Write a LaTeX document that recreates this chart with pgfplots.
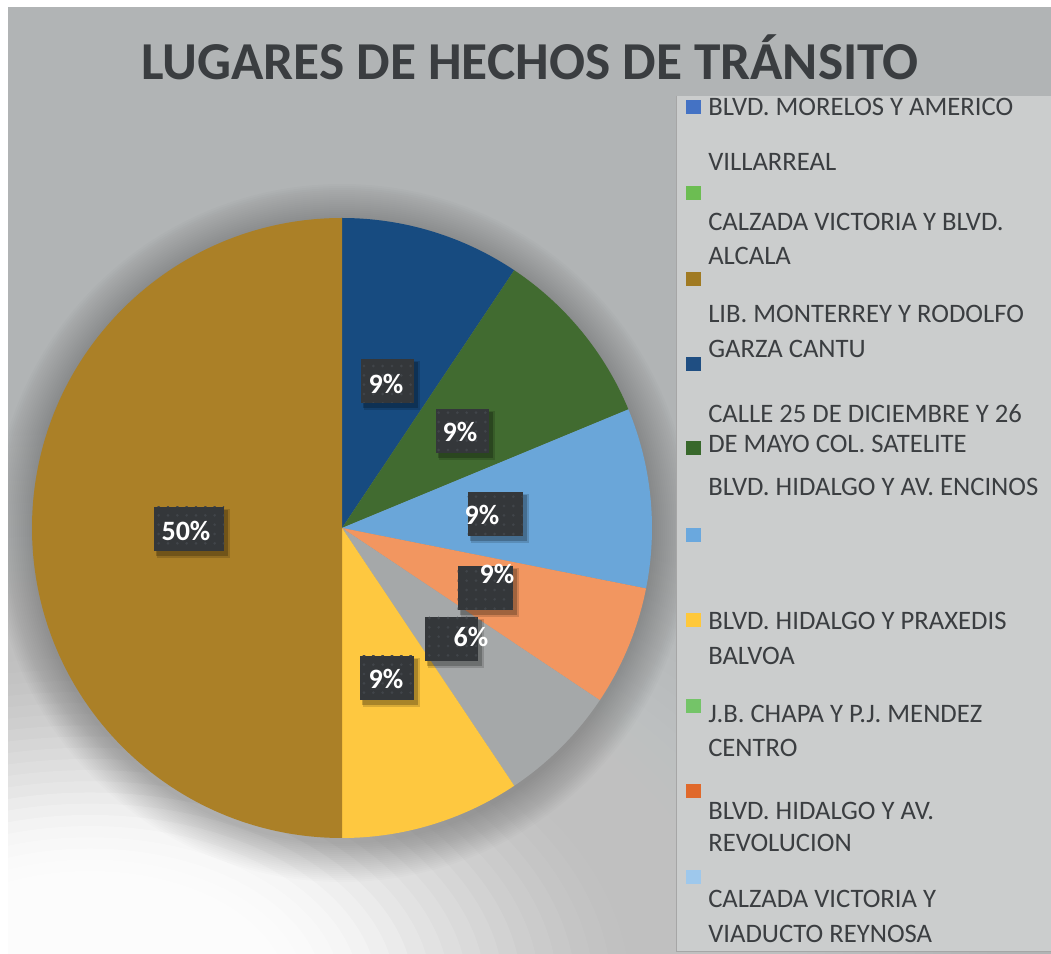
\documentclass[border=0pt]{standalone}
\usepackage{pgfplots}
\pgfplotsset{compat=1.18}
\usepackage{fontspec}
\setmainfont{Carlito}
\usetikzlibrary{patterns.meta}
\definecolor{bgGray}{HTML}{B1B4B5}
\definecolor{legBg}{HTML}{CBCDCD}
\definecolor{titleC}{HTML}{3A3D40}
\definecolor{txtC}{HTML}{3B3E41}
\definecolor{labBox}{HTML}{34373A}
\definecolor{labDot}{HTML}{41454A}
% pie colours
\definecolor{cDB}{HTML}{174B80}
\definecolor{cDG}{HTML}{416B30}
\definecolor{cLB}{HTML}{6AA6D9}
\definecolor{cOR}{HTML}{F29660}
\definecolor{cGR}{HTML}{A5A8A9}
\definecolor{cYE}{HTML}{FEC840}
\definecolor{cGO}{HTML}{AB8027}
% legend colours
\definecolor{l1}{HTML}{4472C4}
\definecolor{l2}{HTML}{6CBD52}
\definecolor{l3}{HTML}{A07A22}
\definecolor{l4}{HTML}{1F4E82}
\definecolor{l5}{HTML}{38682B}
\definecolor{l6}{HTML}{6AA8DE}
\definecolor{l7}{HTML}{FFC83A}
\definecolor{l8}{HTML}{74C468}
\definecolor{l9}{HTML}{E0692B}
\definecolor{l10}{HTML}{9EC8EC}
\newcommand\dlabel[6]{%
  \fill[black,opacity=0.22] (#1-#3/2+2,954-#2-22-5) rectangle (#1+#3/2+4,954-#2+22-3);
  \fill[black,opacity=0.15] (#1-#3/2+3,954-#2-22-7) rectangle (#1+#3/2+6,954-#2+22-2);
  \fill[labBox] (#1-#3/2,954-#2-22) rectangle (#1+#3/2,954-#2+22);
  \fill[pattern={Dots[radius=1.1pt,distance=7pt]}, pattern color=labDot] (#1-#3/2,954-#2-22) rectangle (#1+#3/2,954-#2+22);
  \node[text=white, font=\bfseries\fontsize{21}{21}\selectfont, inner sep=0pt] at (#4,954-#5) {#6};
}
\begin{document}
\begin{tikzpicture}[x=0.75pt,y=0.75pt]
\useasboundingbox (0,0) rectangle (1051,954);
\fill[bgGray] (8,0) rectangle (1051,947);
\begin{scope}
\clip (8,0) rectangle (1051,947);
\foreach \s in {1.0,0.98,...,0.06}{%
  \pgfmathsetmacro\op{\s>0.62 ? 0.016 : (\s>0.4 ? 0.016+(0.62-\s)*0.5 : (\s>0.3 ? 0.126+(0.4-\s)*1.8 : 0.306))}%
  \fill[white,opacity=\op] (90,-40) ellipse [x radius=900*\s, y radius=560*\s];}
% pie shadow
\foreach \r in {311,313,...,349}{\fill[black,opacity=0.012] (342,421) circle [radius=\r];}
\end{scope}
\begin{axis}[at={(256.5pt,319.5pt)}, anchor=center, width=511.5pt, height=511.5pt,
  scale only axis, xmin=-1.1, xmax=1.1, ymin=-1.1, ymax=1.1, hide axis, clip=false]
\addplot[draw=none] coordinates {(0,0)};
\pgfplotsextra{%
  \xdef\acc{90}%
  \foreach \v/\c in {3/cDB,3/cDG,3/cLB,2/cOR,2/cGR,3/cYE,16/cGO}{%
    \pgfmathsetmacro\aend{\acc-360*\v/32}%
    \fill[\c] (axis cs:0,0) -- (axis cs:{cos(\acc)},{sin(\acc)}) arc[start angle=\acc, end angle=\aend, radius=1] -- cycle;
    \global\let\acc\aend
  }%
}
\end{axis}
% data labels
\dlabel{189}{529}{70}{186}{531}{50\%}
\dlabel{387}{381}{53}{386}{384}{9\%}
\dlabel{462}{431}{53}{460}{432}{9\%}
\dlabel{495}{514}{55}{482}{515}{9\%}
\dlabel{485}{588}{55}{497}{574}{9\%}
\dlabel{451}{639}{53}{471}{637}{6\%}
\dlabel{387}{678}{54}{386}{679}{9\%}
% title
\node[anchor=base, font=\bfseries\fontsize{40}{40}\selectfont, text=titleC, inner sep=0pt] at (530,954-80) {LUGARES DE HECHOS DE TRÁNSITO};
% legend
\fill[legBg] (676,954-96) rectangle (1051,954-951);
\draw[gray!70, line width=0.6pt] (676,954-96) -- (676,954-951) -- (1051,954-951);
\foreach \y/\c in {107/l1,193/l2,279/l3,364/l4,448/l5,535/l6,620/l7,706/l8,791/l9,877/l10}{%
  \fill[\c] (686,954-\y-7) rectangle (701,954-\y+7);}
\begin{scope}[every node/.style={anchor=base west, inner sep=0pt, text=txtC, font=\fontsize{20}{20}\selectfont}]
\node at (708,954-116) {BLVD. MORELOS Y AMERICO};
\node at (708,954-171) {VILLARREAL};
\node at (708,954-231) {CALZADA VICTORIA Y BLVD.};
\node at (708,954-265) {ALCALA};
\node at (708,954-323) {LIB. MONTERREY Y RODOLFO};
\node at (708,954-358) {GARZA CANTU};
\node at (708,954-423) {CALLE 25 DE DICIEMBRE Y 26};
\node at (708,954-453) {DE MAYO COL. SATELITE};
\node at (708,954-496) {BLVD. HIDALGO Y AV. ENCINOS};
\node at (708,954-630) {BLVD. HIDALGO Y PRAXEDIS};
\node at (708,954-665) {BALVOA};
\node at (708,954-723) {J.B. CHAPA Y P.J. MENDEZ};
\node at (708,954-757) {CENTRO};
\node at (708,954-820) {BLVD. HIDALGO Y AV.};
\node at (708,954-852) {REVOLUCION};
\node at (708,954-908) {CALZADA VICTORIA Y};
\node at (708,954-943) {VIADUCTO REYNOSA};
\end{scope}
\end{tikzpicture}
\end{document}
